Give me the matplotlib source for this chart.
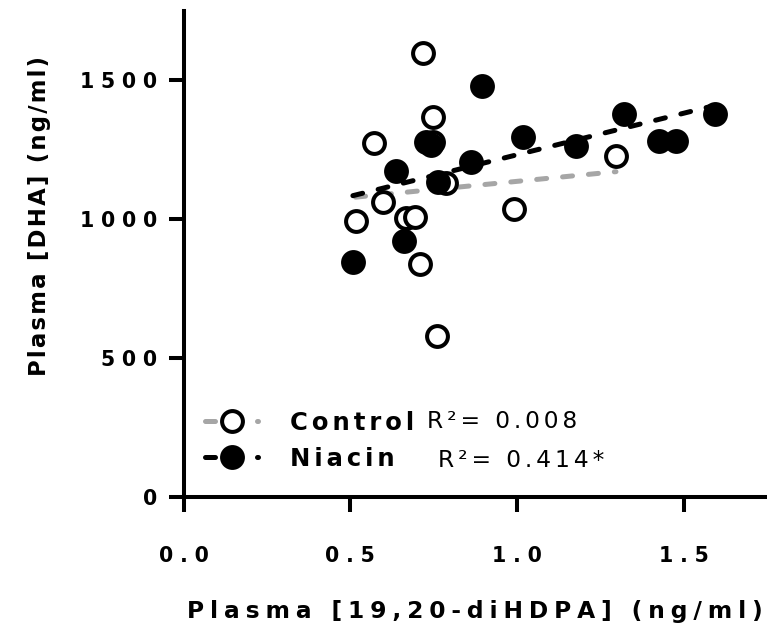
import matplotlib
matplotlib.use("Agg")
import matplotlib.pyplot as plt
import numpy as np
from matplotlib.lines import Line2D

# Plasma 19,20-diHDPA (ng/ml) vs plasma DHA (ng/ml), one point per subject
control_x = [0.718, 0.748, 0.570, 0.747, 0.788, 0.598, 0.516, 0.666, 0.693,
             0.710, 0.760, 0.990, 1.297]
control_y = [1598, 1366, 1274, 1277, 1128, 1060, 993, 1005, 1008,
             837, 579, 1035, 1228]

niacin_x = [0.896, 0.728, 0.743, 0.638, 0.762, 0.660, 0.508, 0.863, 1.017,
            1.177, 1.320, 1.425, 1.477, 1.594]
niacin_y = [1478, 1278, 1266, 1173, 1133, 922, 846, 1206, 1296,
            1263, 1379, 1281, 1281, 1378]

group_names = ["Control", "Niacin"]
r2_texts = ["R\u00b2= 0.008", "R\u00b2= 0.414*"]

x_ticks = [0.0, 0.5, 1.0, 1.5]
x_tick_labels = ["0.0", "0.5", "1.0", "1.5"]
y_ticks = [0, 500, 1000, 1500]
y_tick_labels = ["0", "500", "1000", "1500"]

x_label = "Plasma [19,20-diHDPA] (ng/ml)"
y_label = "Plasma [DHA] (ng/ml)"

plt.rcParams['font.family'] = ['DejaVu Sans']

THREE = "\u2004"   # three-per-em space
FOUR = "\u2005"    # four-per-em space
SIX = "\u2006"     # six-per-em space
HAIR = "\u200a"    # hair space


def spread(s, gap):
    """Letter-spaced version of a label."""
    return gap.join(s)


GRAY = "#a6a6a6"
LW = 3.6
DASH = (0, (2.0, 3.2))
MS = 15
MEW = 2.9

fig = plt.figure(figsize=(7.67, 6.31), dpi=100)
ax = fig.add_axes([183.5 / 767, 134 / 631, 583.5 / 767, 486.4 / 631])

# linear fits drawn under the points
for xs, ys, col in [(control_x, control_y, GRAY), (niacin_x, niacin_y, "black")]:
    xs = np.asarray(xs)
    ys = np.asarray(ys)
    k, b = np.polyfit(xs, ys, 1)
    xx = np.array([xs.min(), xs.max()])
    ax.plot(xx, k * xx + b, color=col, lw=LW, ls=DASH,
            dash_capstyle="round", zorder=2)

ax.plot(control_x, control_y, ls="none", marker="o", ms=MS, mew=MEW,
        mfc="white", mec="black", zorder=3, clip_on=False)
ax.plot(niacin_x, niacin_y, ls="none", marker="o", ms=MS, mew=MEW,
        mfc="black", mec="black", zorder=4, clip_on=False)

ax.set_xlim(0, 1.75)
ax.set_ylim(0, 1750)

for side in ["top", "right"]:
    ax.spines[side].set_visible(False)
for side in ["left", "bottom"]:
    ax.spines[side].set_linewidth(2.9)

ax.set_xticks(x_ticks, [spread(t, THREE) for t in x_tick_labels])
ax.set_yticks(y_ticks, [spread(t, THREE) for t in y_tick_labels])
ax.tick_params(axis="both", direction="out", width=2.9, length=11,
               labelsize=14.8)
ax.tick_params(axis="x", pad=24)
ax.tick_params(axis="y", pad=8)
for lab in ax.get_xticklabels() + ax.get_yticklabels():
    lab.set_fontweight("bold")

ax.set_xlabel(spread(x_label, FOUR), fontsize=16.8, fontweight="bold")
ax.xaxis.set_label_coords(0.5, -0.2364)
ax.xaxis.label.set_va("center")
ax.set_ylabel(spread(y_label, HAIR), fontsize=16.4, fontweight="bold")
ax.yaxis.set_label_coords(-0.246, 0.5777)
ax.yaxis.label.set_va("center")

# legend
handles = [
    Line2D([], [], color=GRAY, lw=LW, ls=DASH, dash_capstyle="round",
           marker="o", ms=MS, mew=MEW, mfc="white", mec="black"),
    Line2D([], [], color="black", lw=LW, ls=DASH, dash_capstyle="round",
           marker="o", ms=MS, mew=MEW, mfc="black", mec="black"),
]
leg = ax.legend(handles, [spread(n, SIX) for n in group_names],
                loc="center left", bbox_to_anchor=(0.037, 0.1153),
                frameon=False, borderpad=0, borderaxespad=0,
                handlelength=2.18, handletextpad=1.32, labelspacing=0.5,
                numpoints=1, prop={"size": 17.5, "weight": "bold"})

ax.text(0.417, 0.155, spread(r2_texts[0], SIX), transform=ax.transAxes,
        ha="left", va="center", fontsize=16.8)
ax.text(0.436, 0.076, spread(r2_texts[1], SIX), transform=ax.transAxes,
        ha="left", va="center", fontsize=16.8)

fig.savefig("out.png", dpi=100)
